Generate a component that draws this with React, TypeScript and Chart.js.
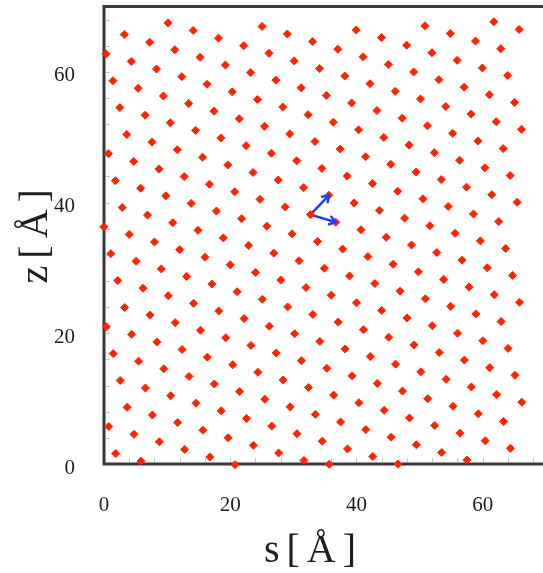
import React, { useEffect, useRef } from 'react';
import { Chart, registerables } from 'chart.js';

Chart.register(...registerables);

// Atom positions [s, z] in Å
const ATOMS: [number, number][] = [
  [61.76, 67.66], [65.76, 66.5],
  [50.85, 67.04], [54.86, 65.87], [58.86, 64.71], [62.86, 63.55],
  [39.95, 66.41], [43.95, 65.25], [47.95, 64.09], [51.95, 62.92], [55.95, 61.76], [59.95, 60.6], [63.96, 59.44],
  [25.04, 66.95], [29.04, 65.79], [33.04, 64.63], [37.04, 63.46], [41.04, 62.3], [45.04, 61.14], [49.05, 59.98], [53.05, 58.81], [57.05, 57.65], [61.05, 56.49], [65.05, 55.32],
  [10.13, 67.49], [14.13, 66.33], [18.13, 65.16], [22.13, 64.0], [26.13, 62.84], [30.13, 61.68], [34.13, 60.51], [38.14, 59.35], [42.14, 58.19], [46.14, 57.02], [50.14, 55.86], [54.14, 54.7], [58.14, 53.54], [62.15, 52.37], [66.15, 51.21],
  [3.22, 65.7], [7.22, 64.54], [11.22, 63.38], [15.22, 62.22], [19.23, 61.05], [23.23, 59.89], [27.23, 58.73], [31.23, 57.56], [35.23, 56.4], [39.23, 55.24], [43.24, 54.08], [47.24, 52.91], [51.24, 51.75], [55.24, 50.59], [59.24, 49.42], [63.24, 48.26],
  [0.31, 62.75], [4.32, 61.59], [8.32, 60.43], [12.32, 59.27], [16.32, 58.1], [20.32, 56.94], [24.32, 55.78], [28.32, 54.61], [32.33, 53.45], [36.33, 52.29], [40.33, 51.13], [44.33, 49.96], [48.33, 48.8], [52.33, 47.64], [56.34, 46.47], [60.34, 45.31], [64.34, 44.15],
  [1.41, 58.64], [5.41, 57.48], [9.41, 56.31], [13.41, 55.15], [17.42, 53.99], [21.42, 52.83], [25.42, 51.66], [29.42, 50.5], [33.42, 49.34], [37.42, 48.18], [41.43, 47.01], [45.43, 45.85], [49.43, 44.69], [53.43, 43.52], [57.43, 42.36], [61.43, 41.2], [65.44, 40.04],
  [2.51, 54.53], [6.51, 53.37], [10.51, 52.2], [14.51, 51.04], [18.51, 49.88], [22.51, 48.71], [26.52, 47.55], [30.52, 46.39], [34.52, 45.23], [38.52, 44.06], [42.52, 42.9], [46.52, 41.74], [50.53, 40.57], [54.53, 39.41], [58.53, 38.25], [62.53, 37.09],
  [3.6, 50.42], [7.6, 49.25], [11.61, 48.09], [15.61, 46.93], [19.61, 45.76], [23.61, 44.6], [27.61, 43.44], [31.61, 42.28], [35.62, 41.11], [39.62, 39.95], [43.62, 38.79], [47.62, 37.62], [51.62, 36.46], [55.62, 35.3], [59.62, 34.14], [63.63, 32.97],
  [0.7, 47.47], [4.7, 46.3], [8.7, 45.14], [12.7, 43.98], [16.7, 42.81], [20.7, 41.65], [24.71, 40.49], [28.71, 39.33], [32.71, 38.16], [36.71, 37.0], [40.71, 35.84], [44.71, 34.68], [48.72, 33.51], [52.72, 32.35], [56.72, 31.19], [60.72, 30.02], [64.72, 28.86],
  [1.79, 43.35], [5.8, 42.19], [9.8, 41.03], [13.8, 39.87], [17.8, 38.7], [21.8, 37.54], [25.8, 36.38], [29.81, 35.21], [33.81, 34.05], [37.81, 32.89], [41.81, 31.73], [45.81, 30.56], [49.81, 29.4], [53.81, 28.24], [57.82, 27.07], [61.82, 25.91], [65.82, 24.75],
  [2.89, 39.24], [6.89, 38.08], [10.89, 36.92], [14.89, 35.75], [18.9, 34.59], [22.9, 33.43], [26.9, 32.26], [30.9, 31.1], [34.9, 29.94], [38.9, 28.78], [42.91, 27.61], [46.91, 26.45], [50.91, 25.29], [54.91, 24.12], [58.91, 22.96], [62.91, 21.8],
  [-0.02, 36.29], [3.99, 35.13], [7.99, 33.97], [11.99, 32.8], [15.99, 31.64], [19.99, 30.48], [23.99, 29.31], [28.0, 28.15], [32.0, 26.99], [36.0, 25.83], [40.0, 24.66], [44.0, 23.5], [48.0, 22.34], [52.01, 21.17], [56.01, 20.01], [60.01, 18.85], [64.01, 17.69],
  [1.08, 32.18], [5.08, 31.02], [9.08, 29.85], [13.09, 28.69], [17.09, 27.53], [21.09, 26.36], [25.09, 25.2], [29.09, 24.04], [33.09, 22.88], [37.1, 21.71], [41.1, 20.55], [45.1, 19.39], [49.1, 18.22], [53.1, 17.06], [57.1, 15.9], [61.11, 14.74], [65.11, 13.57],
  [2.18, 28.07], [6.18, 26.9], [10.18, 25.74], [14.18, 24.58], [18.18, 23.41], [22.19, 22.25], [26.19, 21.09], [30.19, 19.93], [34.19, 18.76], [38.19, 17.6], [42.19, 16.44], [46.19, 15.28], [50.2, 14.11], [54.2, 12.95], [58.2, 11.79], [62.2, 10.62], [66.2, 9.46],
  [3.27, 23.95], [7.28, 22.79], [11.28, 21.63], [15.28, 20.46], [19.28, 19.3], [23.28, 18.14], [27.28, 16.98], [31.28, 15.81], [35.29, 14.65], [39.29, 13.49], [43.29, 12.33], [47.29, 11.16], [51.29, 10.0], [55.29, 8.84], [59.3, 7.67], [63.3, 6.51],
  [0.37, 21.0], [4.37, 19.84], [8.37, 18.68], [12.37, 17.51], [16.37, 16.35], [20.38, 15.19], [24.38, 14.03], [28.38, 12.86], [32.38, 11.7], [36.38, 10.54], [40.38, 9.37], [44.39, 8.21], [48.39, 7.05], [52.39, 5.89], [56.39, 4.72], [60.39, 3.56], [64.39, 2.4],
  [1.46, 16.89], [5.47, 15.73], [9.47, 14.57], [13.47, 13.4], [17.47, 12.24], [21.47, 11.08], [25.47, 9.91], [29.48, 8.75], [33.48, 7.59], [37.48, 6.43], [41.48, 5.26], [45.48, 4.1], [49.48, 2.94], [53.49, 1.77], [57.49, 0.61],
  [2.56, 12.78], [6.56, 11.62], [10.56, 10.45], [14.57, 9.29], [18.57, 8.13], [22.57, 6.96], [26.57, 5.8], [30.57, 4.64], [34.57, 3.48], [38.58, 2.31], [42.58, 1.15], [46.58, -0.01],
  [3.66, 8.67], [7.66, 7.5], [11.66, 6.34], [15.66, 5.18], [19.66, 4.01], [23.66, 2.85], [27.67, 1.69], [31.67, 0.53], [35.67, -0.05],
  [0.75, 5.72], [4.75, 4.55], [8.76, 3.39], [12.76, 2.23], [16.76, 1.06], [20.76, -0.1],
  [1.85, 1.6], [5.85, 0.44],
];

// Lattice vectors drawn as blue arrows
const ARROW_ORIGIN: [number, number] = [32.71, 38.16];
const ARROW_TIPS: [number, number][] = [
  [35.62, 41.11],
  [36.71, 37.0],
];

// Axis ticks
const X_TICKS = [0, 20, 40, 60];
const Y_TICKS = [0, 20, 40, 60];
const MINOR_TICKS = [0, 4, 8, 12, 16, 20, 24, 28, 32, 36, 40, 44, 48, 52, 56, 60, 64, 68];
const X_RANGE: [number, number] = [0, 68.76];
const Y_RANGE: [number, number] = [0, 70];

const X_TITLE = 's[Å]';
const Y_TITLE = 'z[Å]';

const FONT = "'Liberation Serif', 'Times New Roman', serif";
const ATOM_COLOR = 'rgb(255, 36, 0)';
const ARROW_COLOR = '#1f3cff';
const FRAME_COLOR = '#383838';
const TEXT_COLOR = '#1e1e1e';
const TITLE_SIZE = 40;
const TITLE_SPACING = 7;

const framePlugin = {
  id: 'frame',
  beforeDatasetsDraw(chart: any) {
    const { ctx, chartArea, width } = chart;
    const { left, top, bottom } = chartArea;
    const xs = chart.scales.x;
    const ys = chart.scales.y;
    ctx.save();
    ctx.strokeStyle = '#c6c6c6';
    ctx.lineWidth = 1;
    for (const v of MINOR_TICKS) {
      const px = Math.round(xs.getPixelForValue(v)) + 0.5;
      if (px > left + 3 && px < width) {
        ctx.beginPath();
        ctx.moveTo(px, bottom - 1.5);
        ctx.lineTo(px, bottom - 6);
        ctx.stroke();
      }
      const py = Math.round(ys.getPixelForValue(v)) + 0.5;
      if (py < bottom - 3 && py > top + 3) {
        ctx.beginPath();
        ctx.moveTo(left + 1.5, py);
        ctx.lineTo(left + 6, py);
        ctx.stroke();
      }
    }
    ctx.strokeStyle = FRAME_COLOR;
    ctx.lineWidth = 3;
    ctx.lineCap = 'butt';
    ctx.beginPath();
    ctx.moveTo(width, top);
    ctx.lineTo(left, top);
    ctx.lineTo(left, bottom);
    ctx.lineTo(width, bottom);
    ctx.stroke();
    ctx.restore();
  },
};

function spacedText(ctx: any, text: string, x: number, y: number, rotate: boolean) {
  ctx.save();
  ctx.font = `${TITLE_SIZE}px ${FONT}`;
  ctx.fillStyle = TEXT_COLOR;
  ctx.textBaseline = 'alphabetic';
  ctx.textAlign = 'left';
  let hasSpacing = false;
  if ('letterSpacing' in ctx) {
    ctx.letterSpacing = `${TITLE_SPACING}px`;
    hasSpacing = true;
  }
  const w = ctx.measureText(text).width - (hasSpacing ? TITLE_SPACING : 0);
  ctx.translate(x, y);
  if (rotate) ctx.rotate(-Math.PI / 2);
  ctx.fillText(text, -w / 2, 0);
  ctx.restore();
}

const titlePlugin = {
  id: 'axisTitles',
  afterDraw(chart: any) {
    const { ctx, chartArea } = chart;
    // x title: centred under the plot, baseline near the bottom edge
    spacedText(ctx, X_TITLE, 310, 562, false);
    // y title: rotated, centred on the plot height
    spacedText(ctx, Y_TITLE, 47, (chartArea.top + chartArea.bottom) / 2 + 1, true);
  },
};

const arrowPlugin = {
  id: 'arrowHeads',
  afterDatasetsDraw(chart: any) {
    const { ctx } = chart;
    const xs = chart.scales.x;
    const ys = chart.scales.y;
    const ox = xs.getPixelForValue(ARROW_ORIGIN[0]);
    const oy = ys.getPixelForValue(ARROW_ORIGIN[1]);
    ctx.save();
    ctx.strokeStyle = ARROW_COLOR;
    ctx.lineWidth = 2.5;
    ctx.lineCap = 'round';
    ctx.lineJoin = 'round';
    for (const [ts, tz] of ARROW_TIPS) {
      const tx = xs.getPixelForValue(ts);
      const ty = ys.getPixelForValue(tz);
      const ang = Math.atan2(ty - oy, tx - ox);
      const L = 7;
      const spread = 0.6;
      ctx.beginPath();
      ctx.moveTo(tx - L * Math.cos(ang - spread), ty - L * Math.sin(ang - spread));
      ctx.lineTo(tx, ty);
      ctx.lineTo(tx - L * Math.cos(ang + spread), ty - L * Math.sin(ang + spread));
      ctx.stroke();
    }
    ctx.restore();
  },
};

export default function App() {
  const canvasRef = useRef<HTMLCanvasElement | null>(null);

  useEffect(() => {
    const canvas = canvasRef.current;
    if (!canvas) return;

    const arrowSets = ARROW_TIPS.map((tip) => ({
      data: [
        { x: ARROW_ORIGIN[0], y: ARROW_ORIGIN[1] },
        { x: tip[0], y: tip[1] },
      ],
      showLine: true,
      borderColor: ARROW_COLOR,
      backgroundColor: ARROW_COLOR,
      borderWidth: 2.5,
      pointRadius: 0,
      fill: false,
      clip: false as any,
    }));

    const chart = new Chart(canvas, {
      type: 'scatter',
      data: {
        datasets: [
          {
            data: ATOMS.map(([s, z]) => ({ x: s, y: z })),
            pointStyle: 'rectRot',
            pointRadius: 4,
            borderWidth: 1,
            backgroundColor: ATOM_COLOR,
            borderColor: ATOM_COLOR,
            clip: false as any,
          },
          ...arrowSets,
        ],
      },
      options: {
        animation: false,
        responsive: false,
        events: [],
        layout: { padding: { top: 6.5, right: 0, bottom: 0, left: 0 } },
        plugins: {
          legend: { display: false },
          tooltip: { enabled: false },
        },
        scales: {
          x: {
            type: 'linear',
            min: X_RANGE[0],
            max: X_RANGE[1],
            grid: { display: false },
            border: { display: false },
            afterBuildTicks: (scale: any) => {
              scale.ticks = X_TICKS.map((v) => ({ value: v }));
            },
            afterFit: (scale: any) => {
              scale.height = 109;
              scale.paddingLeft = 0;
              scale.paddingRight = 0;
            },
            ticks: {
              padding: 21,
              maxRotation: 0,
              autoSkip: false,
              color: TEXT_COLOR,
              font: { family: FONT, size: 21 },
              callback: (v: any) => String(v),
            },
            title: { display: false, text: X_TITLE },
          },
          y: {
            type: 'linear',
            min: Y_RANGE[0],
            max: Y_RANGE[1],
            grid: { display: false },
            border: { display: false },
            afterBuildTicks: (scale: any) => {
              scale.ticks = Y_TICKS.map((v) => ({ value: v }));
            },
            afterFit: (scale: any) => {
              scale.width = 104;
              scale.paddingTop = 0;
              scale.paddingBottom = 0;
            },
            ticks: {
              padding: 21,
              labelOffset: 4,
              autoSkip: false,
              color: TEXT_COLOR,
              font: { family: FONT, size: 21 },
              callback: (v: any) => String(v),
            },
            title: { display: false, text: Y_TITLE },
          },
        },
      },
      plugins: [framePlugin, arrowPlugin, titlePlugin],
    });

    return () => {
      chart.destroy();
    };
  }, []);

  return (
    <div
      style={{
        position: 'fixed',
        left: 0,
        top: 0,
        width: 543,
        height: 573,
        background: '#ffffff',
        overflow: 'hidden',
      }}
    >
      <canvas ref={canvasRef} width={543} height={573} style={{ width: 543, height: 573, display: 'block' }} />
    </div>
  );
}
